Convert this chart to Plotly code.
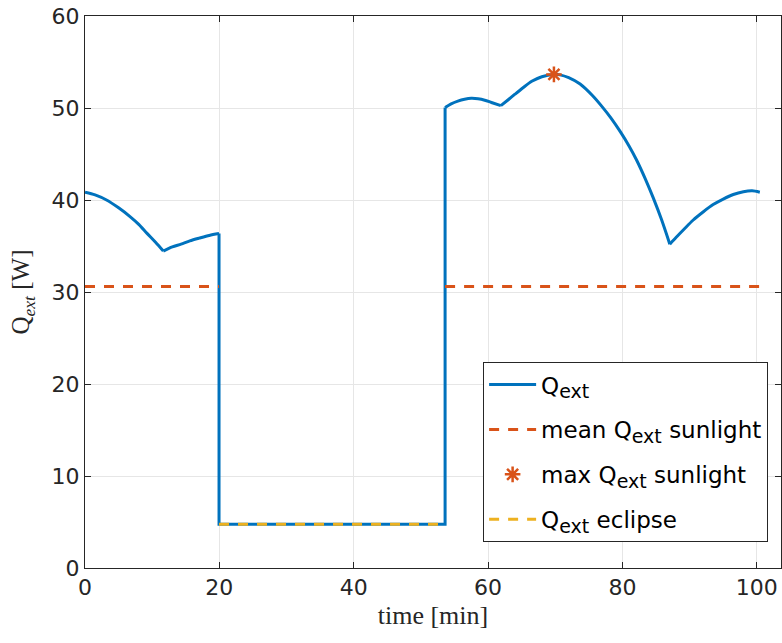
import plotly.graph_objects as go

# ---- data ----
# sunlight arc 1 (two smooth pieces with a kink at ~11.65 min)
t_sun1a = [0, 1.5, 3.2, 5, 6.7, 8, 9.2, 10.5, 11.65]
q_sun1a = [40.85, 40.55, 40.0, 39.15, 38.2, 37.35, 36.4, 35.4, 34.45]
t_sun1b = [11.65, 13, 14.3, 15.6, 17, 18.5, 19.95]
q_sun1b = [34.45, 34.9, 35.2, 35.55, 35.85, 36.15, 36.35]

# eclipse
t_ecl = [19.95, 53.6]
q_ecl_level = 4.75

# sunlight arc 2 (pieces with kinks at ~61.9 and ~87.05 min)
t_sun2a = [53.6, 54.5, 55.5, 56.5, 57.5, 58.5, 59.5, 60.5, 61.9]
q_sun2a = [50.05, 50.45, 50.75, 50.95, 51.05, 51.0, 50.85, 50.6, 50.25]
t_sun2b = [61.9, 63, 64, 65.2, 66.5, 68, 69.7, 70.7, 72, 73.7, 75.6, 76.9,
           78.3, 79.7, 81, 82.1, 83.4, 84.6, 85.8, 87.05]
q_sun2b = [50.25, 50.9, 51.5, 52.2, 52.9, 53.4, 53.65, 53.6, 53.3, 52.6, 51.3, 50.2,
           48.9, 47.4, 45.85, 44.35, 42.3, 40.2, 37.9, 35.2]
t_sun2c = [87.05, 88, 89.2, 90.5, 92, 93.5, 95, 96.5, 98, 99.3, 100.45]
q_sun2c = [35.2, 35.95, 36.85, 37.8, 38.7, 39.5, 40.1, 40.6, 40.9, 41.0, 40.85]

q_mean_sun = 30.6
t_max, q_max = 69.8, 53.65

x_ticks = [0, 20, 40, 60, 80, 100]
y_ticks = [0, 10, 20, 30, 40, 50, 60]

BLUE = "#0072BD"
ORANGE = "#D95319"
YELLOW = "#EDB120"
AX = "#262626"

SUB = "<sub><span style='font-size:19px'>ext</span></sub>"

fig = go.Figure()

# Q_ext: smooth pieces + vertical jumps (one legend entry)
blue_line = dict(color=BLUE, width=3)
fig.add_trace(go.Scatter(x=t_sun1a, y=q_sun1a, mode="lines", name="Q" + SUB,
                         legendgroup="g1", line=dict(**blue_line, shape="spline", smoothing=0.8)))
for tx, qy in [(t_sun1b, q_sun1b), (t_sun2a, q_sun2a), (t_sun2b, q_sun2b), (t_sun2c, q_sun2c)]:
    fig.add_trace(go.Scatter(x=tx, y=qy, mode="lines", showlegend=False, legendgroup="g1",
                             line=dict(**blue_line, shape="spline", smoothing=0.8)))
fig.add_trace(go.Scatter(x=[t_sun1b[-1], t_ecl[0], t_ecl[1], t_sun2a[0]],
                         y=[q_sun1b[-1], q_ecl_level, q_ecl_level, q_sun2a[0]],
                         mode="lines", showlegend=False, legendgroup="g1", line=blue_line))

fig.add_trace(go.Scatter(x=[t_sun1a[0], t_sun1b[-1], None, t_sun2a[0], t_sun2c[-1]],
                         y=[q_mean_sun, q_mean_sun, None, q_mean_sun, q_mean_sun],
                         mode="lines", name="mean Q" + SUB + " sunlight", legendgroup="g2",
                         line=dict(color=ORANGE, width=3, dash="10px,9px")))
fig.add_trace(go.Scatter(x=[t_max], y=[q_max], mode="markers", name="max Q" + SUB + " sunlight",
                         legendgroup="g3",
                         marker=dict(symbol="asterisk-open", size=13, color=ORANGE,
                                     line=dict(color=ORANGE, width=2.5))))
fig.add_trace(go.Scatter(x=t_ecl, y=[q_ecl_level, q_ecl_level], mode="lines",
                         name="Q" + SUB + " eclipse", legendgroup="g4",
                         line=dict(color=YELLOW, width=3, dash="10px,9px")))

axis_common = dict(showgrid=True, gridcolor="#e6e6e6", gridwidth=1,
                   showline=True, linecolor=AX, linewidth=1, mirror="ticks",
                   ticks="inside", ticklen=6, tickcolor=AX, zeroline=False,
                   automargin=False,
                   tickfont=dict(family="DejaVu Sans", size=22, color=AX))

fig.update_xaxes(range=[0, 103.6], tickvals=x_ticks, **axis_common,
                 title=dict(text="time [min]", standoff=6,
                            font=dict(family="Liberation Serif, serif", size=26, color=AX)))
fig.update_yaxes(range=[0, 60], tickvals=y_ticks, **axis_common,
                 title=dict(text="Q<sub><i>ext</i></sub> [W]", standoff=14,
                            font=dict(family="Liberation Serif, serif", size=25, color=AX)))

fig.update_layout(
    width=782, height=643,
    margin=dict(l=85, r=1, t=16, b=75),
    plot_bgcolor="white", paper_bgcolor="white",
    legend=dict(x=0.572, y=0.373, xanchor="left", yanchor="top",
                bgcolor="white", bordercolor=AX, borderwidth=1,
                font=dict(family="DejaVu Sans", size=23, color="black"),
                itemwidth=47, tracegroupgap=12),
)

fig.write_html("out.html", config={"displayModeBar": False},
               post_script="document.body.style.margin='0px';document.body.style.overflow='hidden';")
